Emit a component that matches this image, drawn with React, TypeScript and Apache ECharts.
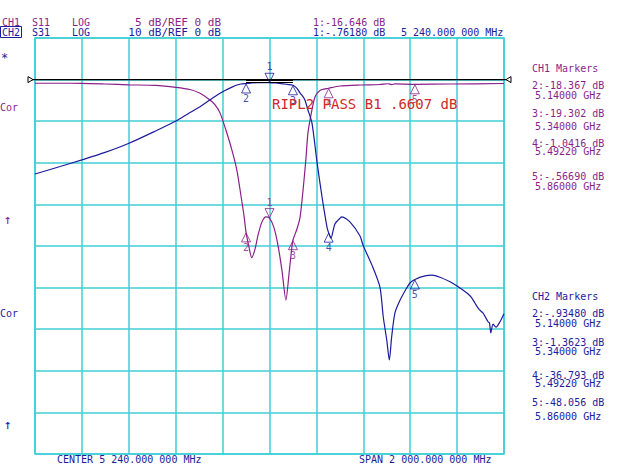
import React, { useEffect, useRef } from "react";
import * as echarts from "echarts";

// Sweep settings
const CENTER_GHZ = 5.24;
const HALF_SPAN_GHZ = 1.0;

// CH1: S11 (log mag, 5 dB/div, ref 0 dB)
const s11Freq = [4.24, 4.347, 4.44, 4.539, 4.641, 4.752, 4.841, 4.901, 4.944, 4.986, 5.008, 5.029, 5.054, 5.08, 5.101, 5.118, 5.131, 5.14, 5.153, 5.164, 5.178, 5.191, 5.208, 5.225, 5.24, 5.259, 5.276, 5.293, 5.31, 5.323, 5.334, 5.34, 5.357, 5.37, 5.383, 5.391, 5.396, 5.404, 5.421, 5.434, 5.455, 5.492, 5.541, 5.626, 5.711, 5.745, 5.76, 5.775, 5.86, 6.01, 6.24];
const s11dB = [-0.44, -0.44, -0.45, -0.53, -0.63, -0.7, -0.93, -1.19, -1.65, -2.45, -3.05, -4.0, -6.06, -8.5, -10.9, -13.9, -16.3, -18.367, -20.2, -21.4, -20.4, -18.7, -17.1, -16.5, -16.646, -17.8, -19.9, -22.9, -26.5, -23.4, -20.5, -19.302, -17.96, -16.6, -13.3, -10.9, -9.3, -6.4, -3.65, -2.1, -1.3, -1.0416, -0.77, -0.65, -0.59, -0.5, -0.6, -0.52, -0.5669, -0.53, -0.47];

// CH2: S31 (log mag, 10 dB/div, ref 0 dB)
const s31Freq = [4.24, 4.347, 4.44, 4.539, 4.641, 4.752, 4.841, 4.901, 4.944, 4.986, 5.029, 5.05, 5.08, 5.101, 5.118, 5.14, 5.165, 5.19, 5.215, 5.24, 5.265, 5.29, 5.315, 5.34, 5.357, 5.37, 5.383, 5.391, 5.404, 5.421, 5.443, 5.464, 5.485, 5.492, 5.502, 5.519, 5.541, 5.549, 5.583, 5.626, 5.639, 5.677, 5.711, 5.725, 5.74, 5.751, 5.761, 5.775, 5.797, 5.825, 5.839, 5.86, 5.903, 5.933, 5.967, 6.01, 6.04, 6.082, 6.1, 6.116, 6.133, 6.15, 6.16, 6.172, 6.178, 6.184, 6.193, 6.206, 6.223, 6.24];
const s31dB = [-22.7, -20.9, -19.3, -17.5, -15.3, -12.4, -9.95, -7.9, -6.5, -4.9, -3.3, -2.6, -1.8, -1.3, -1.05, -0.935, -0.8, -0.72, -0.74, -0.762, -0.8, -0.95, -1.15, -1.362, -2.1, -3.2, -4.1, -4.9, -7.3, -10.4, -20.0, -28.2, -35.4, -36.793, -38.1, -34.7, -33.3, -33.0, -34.2, -37.6, -39.8, -44.6, -49.9, -57.0, -62.6, -67.4, -61.8, -56.1, -53.0, -50.1, -48.9, -48.056, -47.2, -47.0, -47.5, -48.6, -49.6, -51.3, -52.3, -53.7, -55.2, -56.1, -57.0, -58.2, -58.5, -60.9, -58.8, -59.5, -58.2, -56.3];

// Markers (number, GHz, dB)
const markerIds = ["1", "2", "3", "4", "5"];
const markerFreq = [5.24, 5.14, 5.34, 5.4922, 5.86];
const ch1MarkerdB = [-16.646, -18.367, -19.302, -1.0416, -0.5669];
const ch2MarkerdB = [-0.7618, -0.9348, -1.3623, -36.793, -48.056];

// Ripple window (CH2) levels
const rippleLevels = [-0.27, -0.6];

const PURPLE = "#8a1f8a";
const NAVY = "#1c1c9c";
const CYAN = "#3fcfd6";
const RED = "#d02828";
const MONO = '"DejaVu Sans Mono", monospace';

const toXY = (f: number[], v: number[]) => f.map((x, i) => [+(x - CENTER_GHZ).toFixed(4), v[i]]);

const markerData = (vals: number[], from: number, to: number) =>
  markerIds.slice(from, to).map((id, k) => ({
    name: id,
    value: [+(markerFreq[from + k] - CENTER_GHZ).toFixed(4), vals[from + k]],
  }));

const UP = "path://M5 0 L10 10 L0 10 Z";
const DOWN = "path://M0 0 L10 0 L5 10 Z";

const markerSeries = (vals: number[], color: string, yAxisIndex: number) => [
  {
    type: "scatter",
    yAxisIndex,
    symbol: DOWN,
    symbolSize: [9, 9],
    symbolOffset: [0, -5],
    itemStyle: { color: "rgba(0,0,0,0)", borderColor: color, borderWidth: 1 },
    label: { show: true, position: "top", distance: 1, formatter: "{b}", color, fontSize: 10, fontFamily: MONO },
    data: markerData(vals, 0, 1),
    z: 5,
  },
  {
    type: "scatter",
    yAxisIndex,
    symbol: UP,
    symbolSize: [9, 9],
    symbolOffset: [0, 5],
    itemStyle: { color: "rgba(0,0,0,0)", borderColor: color, borderWidth: 1 },
    label: { show: true, position: "bottom", distance: 0, formatter: "{b}", color, fontSize: 10, fontFamily: MONO },
    data: markerData(vals, 1, 5),
    z: 5,
  },
];

type T = { t: string; x: number; y: number; c: string; s?: number; a?: string };
const texts: T[] = [
  { t: "CH1", x: 2, y: 22, c: PURPLE },
  { t: "S11", x: 32, y: 22, c: PURPLE },
  { t: "LOG", x: 72, y: 22, c: PURPLE },
  { t: "5 dB/REF 0 dB", x: 221, y: 22, c: PURPLE, s: 11, a: "right" },
  { t: "1:-16.646 dB", x: 313, y: 22, c: PURPLE },
  { t: "CH2", x: 2, y: 32, c: NAVY },
  { t: "S31", x: 32, y: 32, c: NAVY },
  { t: "LOG", x: 72, y: 32, c: NAVY },
  { t: "10 dB/REF 0 dB", x: 221, y: 32, c: NAVY, s: 11, a: "right" },
  { t: "1:-.76180 dB", x: 313, y: 32, c: NAVY },
  { t: "5 240.000 000 MHz", x: 401, y: 32, c: NAVY },
  { t: "*", x: 1, y: 58, c: NAVY, s: 12 },
  { t: "Cor", x: 0, y: 107, c: PURPLE },
  { t: "\u2191", x: 4, y: 219, c: PURPLE, s: 13 },
  { t: "Cor", x: 0, y: 313, c: NAVY },
  { t: "\u2191", x: 4, y: 424, c: NAVY, s: 13 },
  { t: "RIPL2 PASS B1 .6607 dB", x: 272, y: 104, c: RED, s: 14 },
  { t: "CH1 Markers", x: 532, y: 68, c: PURPLE },
  { t: "2:-18.367 dB", x: 532, y: 85, c: PURPLE },
  { t: "5.14000 GHz", x: 535, y: 95, c: PURPLE },
  { t: "3:-19.302 dB", x: 532, y: 113, c: PURPLE },
  { t: "5.34000 GHz", x: 535, y: 126, c: PURPLE },
  { t: "4:-1.0416 dB", x: 532, y: 143, c: PURPLE },
  { t: "5.49220 GHz", x: 535, y: 151, c: PURPLE },
  { t: "5:-.56690 dB", x: 532, y: 176, c: PURPLE },
  { t: "5.86000 GHz", x: 535, y: 186, c: PURPLE },
  { t: "CH2 Markers", x: 532, y: 296, c: NAVY },
  { t: "2:-.93480 dB", x: 532, y: 313, c: NAVY },
  { t: "5.14000 GHz", x: 535, y: 323, c: NAVY },
  { t: "3:-1.3623 dB", x: 532, y: 342, c: NAVY },
  { t: "5.34000 GHz", x: 535, y: 351, c: NAVY },
  { t: "4:-36.793 dB", x: 532, y: 375, c: NAVY },
  { t: "5.49220 GHz", x: 535, y: 383, c: NAVY },
  { t: "5:-48.056 dB", x: 532, y: 402, c: NAVY },
  { t: "5.86000 GHz", x: 535, y: 416, c: NAVY },
  { t: "CENTER 5 240.000 000 MHz", x: 57, y: 459.5, c: NAVY },
  { t: "SPAN 2 000.000 000 MHz", x: 359, y: 459.5, c: NAVY },
];

export default function App() {
  const ref = useRef<HTMLDivElement>(null);
  useEffect(() => {
    const chart = echarts.init(ref.current!, null, { renderer: "svg", width: 640, height: 465 });
    const option: any = {
      animation: false,
      backgroundColor: "#ffffff",
      grid: { left: 35, top: 38, width: 469, height: 416, show: true, borderColor: CYAN, borderWidth: 1.5, backgroundColor: "transparent" },
      xAxis: {
        type: "value",
        min: -HALF_SPAN_GHZ,
        max: HALF_SPAN_GHZ,
        interval: 0.2,
        axisLabel: { show: false },
        axisLine: { show: false },
        axisTick: { show: false },
        splitLine: { show: true, lineStyle: { color: CYAN, width: 1.5 } },
      },
      yAxis: [
        {
          type: "value",
          min: -45,
          max: 5,
          interval: 5,
          axisLabel: { show: false },
          axisLine: { show: false },
          axisTick: { show: false },
          splitLine: { show: true, lineStyle: { color: CYAN, width: 1.5 } },
        },
        {
          type: "value",
          min: -90,
          max: 10,
          interval: 10,
          position: "left",
          axisLabel: { show: false },
          axisLine: { show: false },
          axisTick: { show: false },
          splitLine: { show: false },
        },
      ],
      series: [
        {
          type: "line",
          yAxisIndex: 0,
          data: toXY(s11Freq, s11dB),
          symbol: "none",
          smooth: 0.25,
          lineStyle: { color: PURPLE, width: 1.2 },
          z: 3,
        },
        {
          type: "line",
          yAxisIndex: 1,
          data: toXY(s31Freq, s31dB),
          symbol: "none",
          smooth: 0.25,
          lineStyle: { color: NAVY, width: 1.2 },
          z: 3,
          markLine: {
            silent: true,
            symbol: "none",
            label: { show: false },
            lineStyle: { color: "#000", width: 1, type: "solid" },
            data: rippleLevels.map((lv) => [
              { coord: [+(markerFreq[1] - CENTER_GHZ).toFixed(4), lv] },
              { coord: [+(markerFreq[2] - CENTER_GHZ).toFixed(4), lv] },
            ]),
          },
        },
        ...markerSeries(ch1MarkerdB, PURPLE, 0),
        ...markerSeries(ch2MarkerdB, NAVY, 1),
      ],
    };
    chart.setOption(option);

    const yRef = chart.convertToPixel({ yAxisIndex: 0 } as any, 0) as number;
    const xL = chart.convertToPixel({ xAxisIndex: 0 } as any, -HALF_SPAN_GHZ) as number;
    const xR = chart.convertToPixel({ xAxisIndex: 0 } as any, HALF_SPAN_GHZ) as number;

    const graphic: any[] = [
      { type: "line", shape: { x1: xL - 4, y1: yRef, x2: xR + 4, y2: yRef }, style: { stroke: "#000", lineWidth: 1.3 }, z: 10 },
      { type: "polygon", shape: { points: [[xL - 7, yRef - 3], [xL - 2, yRef], [xL - 7, yRef + 3]] }, style: { stroke: "#000", fill: "#fff", lineWidth: 1 }, z: 11 },
      { type: "polygon", shape: { points: [[xR + 7, yRef - 3], [xR + 2, yRef], [xR + 7, yRef + 3]] }, style: { stroke: "#000", fill: "#fff", lineWidth: 1 }, z: 11 },
      { type: "rect", shape: { x: 0.5, y: 26.5, width: 21, height: 11 }, style: { stroke: NAVY, fill: "none", lineWidth: 1 }, z: 10 },
      ...texts.map((d) => ({
        type: "text",
        x: d.x,
        y: d.y,
        z: 12,
        style: {
          text: d.t,
          fill: d.c,
          font: `${d.s || 10}px ${MONO}`,
          textAlign: d.a || "left",
          textVerticalAlign: "middle",
        },
      })),
    ];
    chart.setOption({ graphic });
    return () => chart.dispose();
  }, []);
  return <div ref={ref} style={{ position: "fixed", left: 0, top: 0, width: 640, height: 465, background: "#fff" }} />;
}
